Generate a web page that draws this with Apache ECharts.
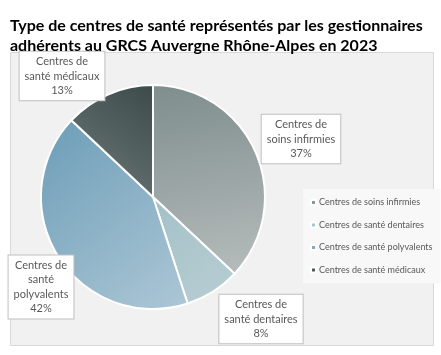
<!DOCTYPE html>
<html><head><meta charset="utf-8">
<script src="https://cdn.jsdelivr.net/npm/echarts@6/dist/echarts.min.js"></script>
<style>html,body{margin:0;padding:0;background:#fff}#c{width:441px;height:355px}</style>
</head><body><div id="c"></div>
<script>
const titleLines = ["Type de centres de santé représentés par les gestionnaires", "adhérents au GRCS Auvergne Rhône-Alpes en 2023"];
const categories = ["Centres de soins infirmies", "Centres de santé dentaires", "Centres de santé polyvalents", "Centres de santé médicaux"];
const labelTexts = ["Centres de\nsoins infirmies", "Centres de\nsanté dentaires", "Centres de\nsanté\npolyvalents", "Centres de\nsanté médicaux"];
const values = [37, 8, 42, 13];

const grad = (c0, c1, x0, y0, x1, y1) => new echarts.graphic.LinearGradient(x0, y0, x1, y1, [{offset: 0, color: c0}, {offset: 1, color: c1}]);
const fills = [
  grad('#7e8d8d', '#b3b9b9', 0, 0, 0.3, 1),
  grad('#a3c0c7', '#b8ced3', 0, 0, 1, 1),
  grad('#6c9db7', '#adc7d6', 0, 0, 1, 1),
  grad('#3d4a4a', '#6f7b7b', 1, 0, 0, 1)
];
const legendColors = ['#8a9898', '#a9c5cc', '#7eaac1', '#4e5a5a'];
const labelPos = [[301, 139], [261, 319], [41, 287], [62, 76]];

const chart = echarts.init(document.getElementById('c'), null, {renderer: 'canvas'});
chart.setOption({
  animation: false,
  textStyle: {fontFamily: 'Lato'},
  title: {
    text: titleLines.join('\n'), left: 5, top: 11,
    textStyle: {fontFamily: 'Lato', fontWeight: 'bold', fontSize: 16, color: '#000', lineHeight: 20}
  },
  graphic: [{
    type: 'rect', z: -10, shape: {x: 10.5, y: 52.5, width: 423, height: 293},
    style: {fill: '#f1f1f1', stroke: '#d9d9d9', lineWidth: 1}
  }],
  legend: {
    orient: 'vertical', left: 303, top: 189, itemWidth: 5, itemHeight: 5, itemGap: 13.5,
    icon: 'rect', padding: [9, 8, 9, 7], backgroundColor: '#f8f8f8',
    textStyle: {fontFamily: 'Lato', fontSize: 9, color: '#595959', padding: [0, 0, 0, -2]},
    data: categories.map((n, i) => ({name: n, itemStyle: {color: legendColors[i]}}))
  },
  series: [{
    type: 'pie', center: [153, 197], radius: 112, startAngle: 90, clockwise: true,
    itemStyle: {borderColor: '#fff', borderWidth: 2},
    label: {
      show: true, position: 'inside', overflow: 'none', fontFamily: 'Lato', fontSize: 11, color: '#595959', lineHeight: 14.5,
      backgroundColor: '#fff', borderColor: '#bfbfbf', borderWidth: 1, padding: [3, 5, 2, 5], align: 'center'
    },
    labelLine: {show: false},
    labelLayout: p => ({x: labelPos[p.dataIndex][0], y: labelPos[p.dataIndex][1], align: 'center', verticalAlign: 'middle'}),
    data: categories.map((n, i) => ({
      name: n, value: values[i], itemStyle: {color: fills[i]},
      label: {formatter: labelTexts[i] + '\n' + values[i] + '%'}
    }))
  }]
});
</script></body></html>
